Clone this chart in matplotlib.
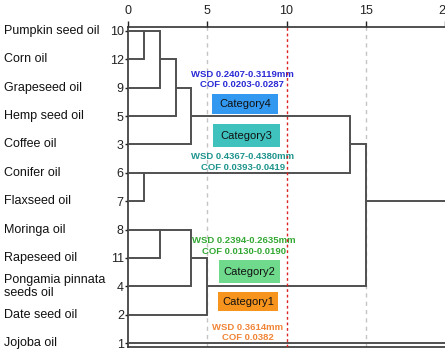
import matplotlib.pyplot as plt
from matplotlib.patches import Rectangle
from matplotlib.transforms import blended_transform_factory

plt.rcParams['font.family'] = ['Liberation Sans', 'DejaVu Sans']

# leaves, top to bottom
oil_names = ["Pumpkin seed oil", "Corn oil", "Grapeseed oil", "Hemp seed oil",
             "Coffee oil", "Conifer oil", "Flaxseed oil", "Moringa oil",
             "Rapeseed oil", "Pongamia pinnata\nseeds oil", "Date seed oil",
             "Jojoba oil"]
case_ids = [10, 12, 9, 5, 3, 6, 7, 8, 11, 4, 2, 1]

# merges: (cluster a, cluster b, distance); new clusters numbered from 12
merges = [(0, 1, 1), (12, 2, 2), (13, 3, 3), (14, 4, 4), (5, 6, 1),
          (15, 16, 14), (7, 8, 2), (18, 9, 4), (19, 10, 5), (17, 20, 15),
          (21, 11, 25)]

# category annotations
cat_names = ["Category4", "Category3", "Category2", "Category1"]
cat_colors = ["#3399f0", "#3fc2bd", "#6fd98c", "#f7941d"]
cat_text_colors = ["#2a2ad6", "#1f948d", "#33a833", "#f08538"]
cat_wsd = ["WSD 0.2407-0.3119mm", "WSD 0.4367-0.4380mm",
           "WSD 0.2394-0.2635mm", "WSD 0.3614mm"]
cat_cof = ["COF 0.0203-0.0287", "COF 0.0393-0.0419",
           "COF 0.0130-0.0190", "COF 0.0382"]

# layout (data units: x = distance, y = row)
box_x = [(5.3, 9.45), (5.36, 9.58), (5.73, 9.58), (5.67, 9.45)]
box_y = [(2.22, 2.93), (3.28, 4.09), (8.07, 8.89), (9.2, 9.87)]
note_x = [7.2, 7.25, 7.3, 7.57]
note_y = [1.52, 4.44, 7.4, 10.44]

fig = plt.figure(figsize=(4.45, 3.56), dpi=100)
ax = fig.add_axes([128 / 445, 1 - 346.5 / 356, 1 - 128 / 445, (346.5 - 27) / 356])
ax.set_xlim(0, 20)
ax.set_ylim(11.12, -0.14)

line_col = "#505050"
n = len(oil_names)
pos = {i: i for i in range(n)}
hgt = {i: 0 for i in range(n)}
for k, (a, b, d) in enumerate(merges):
    for c in (a, b):
        ax.plot([hgt[c], d], [pos[c], pos[c]], color=line_col, lw=1.4,
                solid_capstyle='butt', zorder=3)
    ax.plot([d, d], [pos[a], pos[b]], color=line_col, lw=1.4, zorder=3)
    pos[n + k] = (pos[a] + pos[b]) // 2
    hgt[n + k] = d

# reference lines
for xv in (5, 15):
    ax.axvline(xv, color="#c4c4c4", lw=1, ls=(0, (3, 3)), zorder=1)
ax.axvline(10, color="#dd2222", lw=1, ls=(0, (2, 2)), zorder=4)

for i in range(len(cat_names)):
    x0, x1 = box_x[i]
    y0, y1 = box_y[i]
    ax.add_patch(Rectangle((x0, y0), x1 - x0, y1 - y0, facecolor=cat_colors[i],
                           edgecolor='none', zorder=2))
    ax.text((x0 + x1) / 2, (y0 + y1) / 2, cat_names[i], ha='center', va='center',
            fontsize=8, color='#111111', zorder=5)
    ax.text(note_x[i], note_y[i], cat_wsd[i], ha='center', va='center',
            fontsize=6.8, fontweight='bold', color=cat_text_colors[i], zorder=3)
    ax.text(note_x[i], note_y[i] + 0.36, cat_cof[i], ha='center', va='center',
            fontsize=6.8, fontweight='bold', color=cat_text_colors[i], zorder=3)

# axes
ax.xaxis.tick_top()
ax.set_xticks([0, 5, 10, 15, 20])
ax.tick_params(axis='x', length=4, width=1, pad=3, labelsize=9, colors='#222222')
ax.set_yticks(range(n))
ax.set_yticklabels([str(c) for c in case_ids])
ax.tick_params(axis='y', length=2, width=1, pad=1, labelsize=9, colors='#222222')
ax.spines['right'].set_visible(False)
for s in ('top', 'left', 'bottom'):
    ax.spines[s].set_color('#333333')
    ax.spines[s].set_linewidth(1.2)

trans = blended_transform_factory(fig.transFigure, ax.transData)
for i, name in enumerate(oil_names):
    ax.text(4 / 445, i, name, transform=trans, ha='left', va='center',
            fontsize=9, color='#111111', linespacing=1.05)

fig.savefig("out.png", dpi=100)
